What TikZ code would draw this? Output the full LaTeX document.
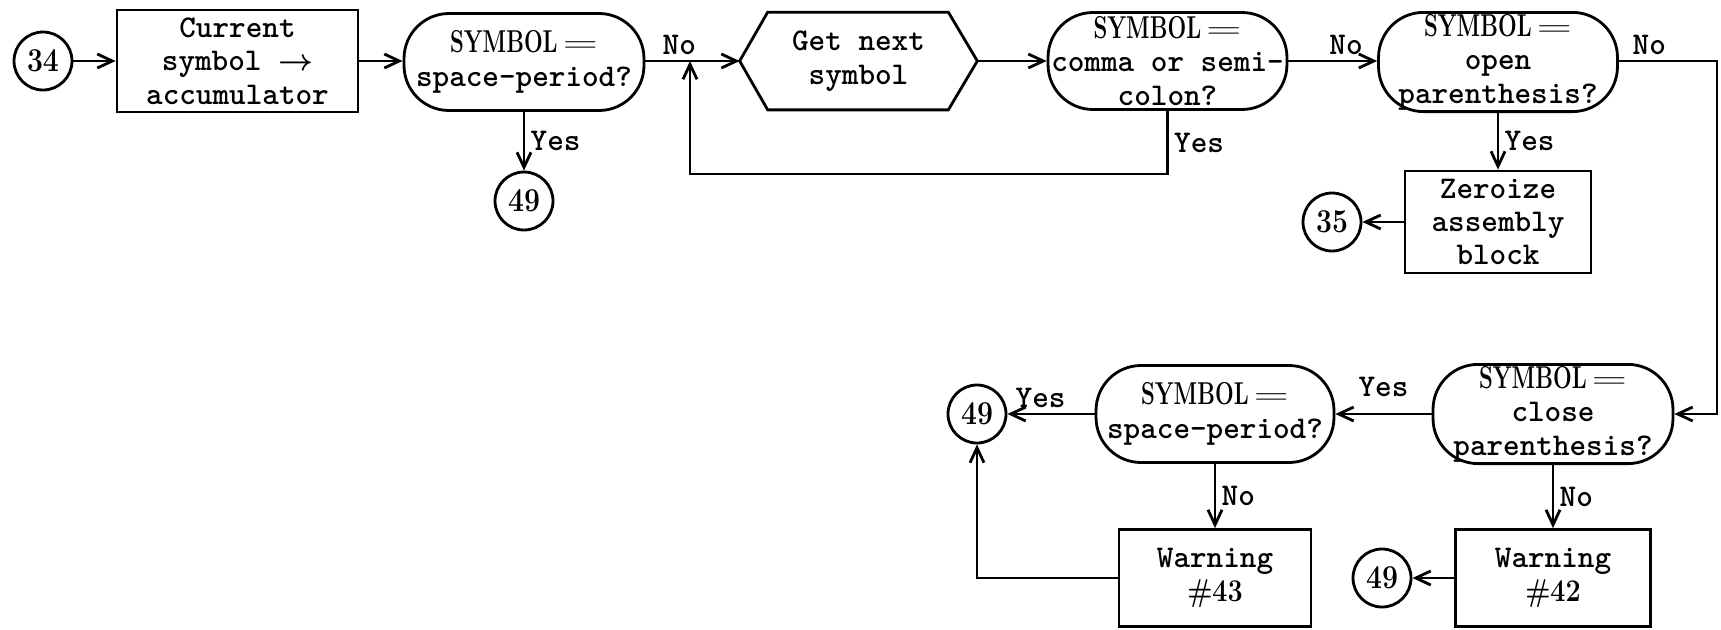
\documentclass[tikz,border=0pt]{standalone}
\usepackage{graphicx}
\usetikzlibrary{arrows.meta}

\newcommand{\symbeq}{{\rmfamily\bfseries\scalebox{0.7}[1]{SYMBOL}\,\scalebox{1.6}[1]{$=$}}}

\tikzset{
  flowbox/.style={draw, rectangle, line width=1.6pt, align=center, inner sep=2pt},
  decision/.style={draw, rectangle, rounded corners=0.9cm, line width=1.6pt, align=center,
    inner sep=1pt, minimum width=4.8cm, minimum height=1.94cm},
  connector/.style={draw, circle, line width=1.6pt, inner sep=0pt, minimum size=1.16cm,
    font=\rmfamily\bfseries\fontsize{19}{19}\selectfont},
  flow/.style={-{Straight Barb[length=3mm,width=2.8mm]}, line width=1.6pt},
  answer/.style={inner sep=3pt}
}

\begin{document}
\begin{tikzpicture}[x=0.02cm, y=-0.02cm, font=\ttfamily\bfseries\fontsize{18}{19}\selectfont]
            \useasboundingbox (0,0) rectangle (1721,629);

            % Top row
            \node[connector] (c34) at (43,61) {\scalebox{0.85}[1]{34}};
            \node[flowbox, minimum width=4.82cm, minimum height=2.04cm] (accu) at (237.5,61) {Current\\symbol {\boldmath$\rightarrow$}\\accumulator};
            \node[decision] (spA) at (524,62) {\symbeq\\space-period?};
            \node[minimum width=4.74cm, minimum height=1.94cm, align=center] (getsym) at (858.5,61) {Get next\\symbol};
            \node[decision, minimum width=4.78cm] (commas) at (1167.5,61) {\symbeq\\comma or semi-\\colon?};
            \node[decision, minimum width=4.78cm] (openp) at (1498,62) {\symbeq\\open\\parenthesis?};
            \coordinate (join) at (690,61);
            \coordinate (loop) at (690,174);
            \coordinate (rturn) at (1717,61);

            % Hexagon round "Get next symbol"
            \draw[line width=1.6pt] ([xshift=0.56cm]getsym.north west) -- ([xshift=-0.58cm]getsym.north east) -- (getsym.east)
              -- ([xshift=-0.58cm]getsym.south east) -- ([xshift=0.56cm]getsym.south west) -- (getsym.west) -- cycle;

            % Answers of the top row
            \node[connector] (c49a) at (524,201) {\scalebox{0.85}[1]{49}};
            \node[flowbox, minimum width=3.72cm, minimum height=2.04cm] (zero) at (1498,222) {Zeroize\\assembly\\block};
            \node[connector] (c35) at (1332,222) {\scalebox{0.85}[1]{35}};

            % Bottom row
            \node[decision] (closep) at (1553,414) {\symbeq\\close\\parenthesis?};
            \node[decision, minimum width=4.76cm] (spB) at (1215,414) {\symbeq\\space-period?};
            \node[connector] (c49b) at (977,414) {\scalebox{0.85}[1]{49}};
            \node[flowbox, minimum width=3.84cm, minimum height=1.94cm] (warnB) at (1215,578) {Warning\\{\rmfamily\scalebox{0.85}[1]{\#43}}};
            \node[flowbox, minimum width=3.9cm, minimum height=1.94cm] (warnA) at (1553,578) {Warning\\{\rmfamily\scalebox{0.85}[1]{\#42}}};
            \node[connector] (c49c) at (1382,578) {\scalebox{0.85}[1]{49}};

            % Connectors
            \draw[flow] (c34) -- (accu);
            \draw[flow] (accu) -- (spA.west |- accu.east);
            \draw[flow] (spA.east |- join) -- node[pos=0.36, above, answer] (noA) {No} (getsym.west);
            \draw[flow] (spA) -- node[midway, right, answer] (yesA) {Yes} (c49a);
            \draw[flow] (getsym) -- (commas);
            \draw[flow] (commas.south) |- node[pos=0.25, right, answer] (yesB) {Yes} (loop) -- (join);
            \draw[flow] (commas) -- node[pos=0.65, above, answer] (noB) {No} (openp.west |- commas.east);
            \draw[flow] (openp.east |- rturn) -- node[pos=0.31, above, answer] (noC) {No} (rturn) |- (closep.east);
            \draw[flow] (openp) -- node[midway, right, answer] (yesC) {Yes} (zero);
            \draw[flow] (zero) -- (c35);
            \draw[flow] (closep) -- node[midway, above=6pt, answer] (yesD) {Yes} (spB);
            \draw[flow] (spB) -- node[pos=0.62, above, answer] (yesE) {Yes} (c49b);
            \draw[flow] (spB) -- node[midway, right, answer] (noD) {No} (warnB);
            \draw[flow] (closep) -- node[midway, right, answer] (noE) {No} (warnA);
            \draw[flow] (warnB.west) -| (c49b.south);
            \draw[flow] (warnA) -- (c49c);
        \end{tikzpicture}
\end{document}
